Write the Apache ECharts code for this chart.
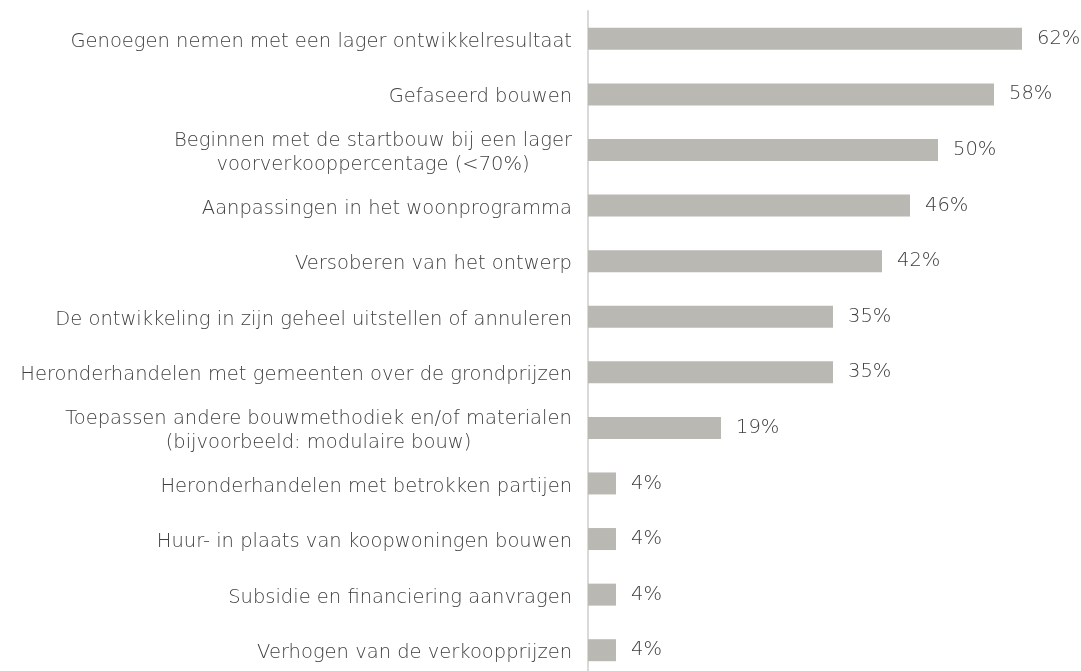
<!DOCTYPE html>
<html>
<head>
	<meta charset="utf-8">
	<title>chart</title>
	<style>
		html, body { margin: 0; padding: 0; background: #fff; overflow: hidden; }
		/* iets hoger dan het venster: de onderste band loopt net buiten beeld */
		#graph { width: 1081px; height: 680px; }
	</style>
</head>
<body>
<div id="graph"></div>
<script type="text/javascript" src="https://cdn.jsdelivr.net/npm/echarts@6/dist/echarts.min.js"></script>
<script type="text/javascript">
	// categorieen van boven naar beneden
	const categories = [
		'Genoegen nemen met een lager ontwikkelresultaat',
		'Gefaseerd bouwen',
		'Beginnen met de startbouw bij een lager\nvoorverkooppercentage (<70%)',
		'Aanpassingen in het woonprogramma',
		'Versoberen van het ontwerp',
		'De ontwikkeling in zijn geheel uitstellen of annuleren',
		'Heronderhandelen met gemeenten over de grondprijzen',
		'Toepassen andere bouwmethodiek en/of materialen\n(bijvoorbeeld: modulaire bouw)',
		'Heronderhandelen met betrokken partijen',
		'Huur- in plaats van koopwoningen bouwen',
		'Subsidie en financiering aanvragen',
		'Verhogen van de verkoopprijzen'
	];
	const values = [62, 58, 50, 46, 42, 35, 35, 19, 4, 4, 4, 4];

	const FONT = 'DejaVu Sans';
	const FONT_SIZE = 19.5;
	const FONT_WEIGHT = 200;
	const TEXT_COLOR = '#404040';

	// breedte meten zodat meerregelige labels gecentreerd blijven
	let ctx = document.createElement('canvas').getContext('2d');
	ctx.font = FONT_WEIGHT + ' ' + FONT_SIZE + 'px "' + FONT + '"';
	function measure(s) { return Math.ceil(ctx.measureText(s).width); }

	let rich = {};
	categories.forEach((c, i) => {
		let lines = c.split('\n');
		if (lines.length > 1) {
			let w = Math.max(...lines.map(measure));
			rich['m' + i] = {
				width: w, align: 'center',
				fontFamily: FONT, fontSize: FONT_SIZE, fontWeight: FONT_WEIGHT,
				color: TEXT_COLOR, lineHeight: 24
			};
		}
	});

	let chart = echarts.init(document.getElementById('graph'));
	chart.setOption({
		animation: false,
		grid: { left: 588, top: 11, width: 490, height: 667, containLabel: false },
		xAxis: {
			type: 'value', min: 0, max: 70,
			show: false
		},
		yAxis: {
			type: 'category',
			inverse: true,
			data: categories,
			axisLine: { show: true, lineStyle: { color: '#d9d9d9', width: 2 } },
			axisTick: { show: false },
			axisLabel: {
				margin: 16,
				padding: [6, 0, 0, 0],
				fontFamily: FONT, fontSize: FONT_SIZE, fontWeight: FONT_WEIGHT, color: TEXT_COLOR,
				lineHeight: 24,
				rich: rich,
				formatter: function (value, idx) {
					let lines = value.split('\n');
					if (lines.length === 1) return value;
					return lines.map(l => '{m' + idx + '|' + l + '}').join('\n');
				}
			}
		},
		series: [{
			type: 'bar',
			data: values,
			barWidth: 22,
			itemStyle: { color: '#bab8b3' },
			label: {
				show: true, position: 'right', distance: 15,
				padding: [6, 0, 0, 0],
				formatter: '{c}%',
				fontFamily: FONT, fontSize: FONT_SIZE, fontWeight: FONT_WEIGHT, color: TEXT_COLOR
			}
		}]
	});
</script>
</body>
</html>
